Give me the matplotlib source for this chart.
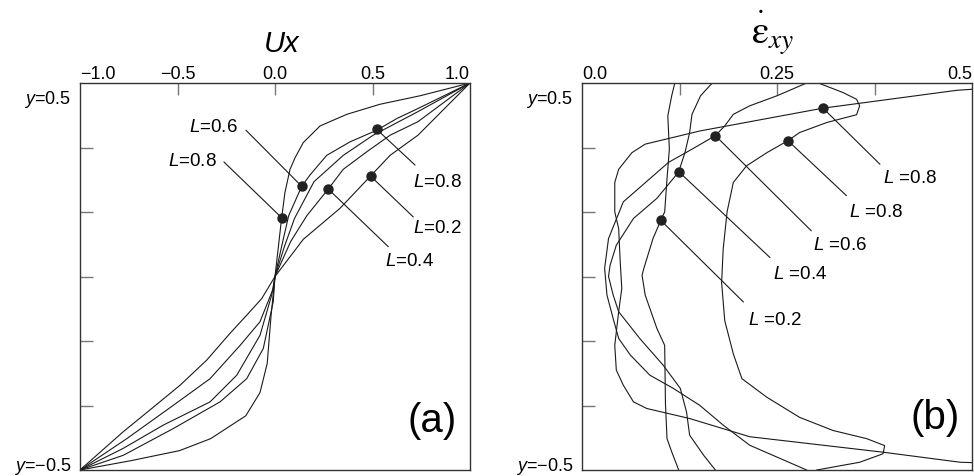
import matplotlib.pyplot as plt

plt.rcParams.update(
    {
        "font.family": ["Liberation Sans", "DejaVu Sans"],
        "font.size": 13,
        "mathtext.fontset": "custom",
        "mathtext.rm": "Liberation Sans",
        "mathtext.it": "Liberation Sans:italic",
        "axes.linewidth": 1.0,
    }
)

# ---- panel (a): velocity profiles Ux(y) ----
UX_A_X = [-1, -0.74, -0.49, -0.33, -0.15, -0.077, -0.04, -0.02, 0, 0.018, 0.034, 0.051, 0.077, 0.103, 0.145, 0.231, 0.368, 0.538, 0.744, 1]
UX_A_Y = [-0.5, -0.476, -0.45, -0.419, -0.36, -0.30, -0.225, -0.10, 0, 0.08, 0.151, 0.217, 0.277, 0.307, 0.346, 0.389, 0.419, 0.445, 0.467, 0.5]
UX_B_X = [-1, -0.778, -0.522, -0.282, -0.145, -0.06, -0.009, 0, 0.035, 0.07, 0.137, 0.179, 0.265, 0.385, 0.522, 0.624, 0.733, 1]
UX_B_Y = [-0.5, -0.462, -0.393, -0.324, -0.264, -0.186, -0.065, 0, 0.08, 0.157, 0.233, 0.262, 0.313, 0.348, 0.378, 0.408, 0.434, 0.5]
UX_C_X = [-1, -0.778, -0.573, -0.333, -0.196, -0.077, -0.017, 0, 0.05, 0.10, 0.2, 0.35, 0.503, 0.733, 1]
UX_C_Y = [-0.5, -0.444, -0.384, -0.324, -0.255, -0.152, -0.048, 0, 0.08, 0.15, 0.245, 0.313, 0.365, 0.426, 0.5]
UX_E_X = [-1, -0.76, -0.522, -0.333, -0.179, -0.077, -0.009, 0, 0.08, 0.163, 0.273, 0.35, 0.47, 0.59, 0.733, 1]
UX_E_Y = [-0.5, -0.419, -0.333, -0.264, -0.178, -0.117, -0.031, 0, 0.09, 0.157, 0.226, 0.277, 0.322, 0.365, 0.40, 0.5]
UX_D_X = [-1, -0.778, -0.632, -0.487, -0.35, -0.231, -0.145, -0.068, 0, 0.145, 0.333, 0.487, 0.59, 0.733, 1]
UX_D_Y = [-0.5, -0.401, -0.341, -0.281, -0.216, -0.147, -0.100, -0.057, 0, 0.096, 0.176, 0.258, 0.313, 0.365, 0.5]

UX_MARK_X = [0.137, 0.034, 0.522, 0.491, 0.273]
UX_MARK_Y = [0.233, 0.152, 0.380, 0.259, 0.226]
UX_MARK_L = ["0.6", "0.8", "0.8", "0.2", "0.4"]

UX_TICKS = [-1.0, -0.5, 0.0, 0.5, 1.0]
UX_TICK_LABELS = ["\u22121.0", "\u22120.5", "0.0", "0.5", "1.0"]

# ---- panel (b): shear strain rate profiles ----
EPS_1_X = [0.124, 0.115, 0.109, 0.107, 0.106, 0.096, 0.081, 0.077, 0.079, 0.091, 0.101, 0.106, 0.109, 0.112, 0.110, 0.115, 0.119]
EPS_1_Y = [-0.5, -0.453, -0.419, -0.329, -0.178, -0.134, -0.048, 0.003, 0.019, 0.098, 0.145, 0.167, 0.253, 0.329, 0.415, 0.467, 0.5]
EPS_2_X = [0.171, 0.156, 0.138, 0.134, 0.126, 0.104, 0.074, 0.047, 0.040, 0.034, 0.036, 0.044, 0.066, 0.096, 0.117, 0.124, 0.132, 0.138, 0.141, 0.152, 0.167]
EPS_2_Y = [-0.5, -0.462, -0.410, -0.350, -0.289, -0.229, -0.160, -0.091, -0.048, 0.0, 0.029, 0.081, 0.150, 0.202, 0.253, 0.271, 0.320, 0.372, 0.419, 0.467, 0.5]
EPS_3_X = [0.288, 0.215, 0.181, 0.151, 0.117, 0.087, 0.062, 0.047, 0.040, 0.032, 0.029, 0.034, 0.053, 0.086, 0.111, 0.141, 0.171, 0.183, 0.194, 0.215, 0.250, 0.288]
EPS_3_Y = [-0.5, -0.436, -0.384, -0.333, -0.289, -0.255, -0.203, -0.160, -0.109, -0.048, 0.021, 0.098, 0.193, 0.251, 0.295, 0.329, 0.364, 0.389, 0.419, 0.441, 0.467, 0.5]
EPS_4_X = [0.501, 0.485, 0.386, 0.215, 0.138, 0.083, 0.066, 0.053, 0.044, 0.042, 0.047, 0.051, 0.049, 0.047, 0.042, 0.042, 0.047, 0.064, 0.081, 0.151, 0.309, 0.480, 0.501]
EPS_4_Y = [-0.481, -0.480, -0.454, -0.414, -0.367, -0.341, -0.324, -0.281, -0.242, -0.178, -0.091, -0.031, 0.038, 0.124, 0.167, 0.243, 0.277, 0.320, 0.342, 0.376, 0.435, 0.481, 0.484]
EPS_5_X = [0.301, 0.356, 0.386, 0.388, 0.365, 0.322, 0.279, 0.237, 0.205, 0.194, 0.183, 0.179, 0.181, 0.186, 0.194, 0.211, 0.237, 0.264, 0.279, 0.314, 0.352, 0.356, 0.352, 0.335, 0.303]
EPS_5_Y = [-0.5, -0.480, -0.458, -0.437, -0.419, -0.398, -0.364, -0.312, -0.264, -0.200, -0.114, -0.016, 0.071, 0.167, 0.243, 0.286, 0.320, 0.351, 0.372, 0.398, 0.418, 0.441, 0.458, 0.475, 0.5]

EPS_MARK_X = [0.309, 0.264, 0.171, 0.124, 0.101]
EPS_MARK_Y = [0.435, 0.351, 0.364, 0.271, 0.145]
EPS_MARK_L = ["0.8", "0.8", "0.6", "0.4", "0.2"]

EPS_TICKS = [0.0, 0.125, 0.25, 0.375, 0.5]
EPS_TICK_LABELS = ["0.0", "", "0.25", "", "0.5"]

Y_TICKS = [-0.5, -1 / 3, -1 / 6, 0.0, 1 / 6, 1 / 3, 0.5]

LINE_COLOR = "#1a1a1a"
TICK_COLOR = "#777777"


def style_axes(ax, xlim, xticks, xticklabels):
    ax.set_xlim(*xlim)
    ax.set_ylim(-0.5, 0.5)
    for spine in ax.spines.values():
        spine.set_color("#333333")
    ax.xaxis.tick_top()
    ax.set_xticks(xticks)
    ax.set_xticklabels(xticklabels)
    ax.set_yticks(Y_TICKS)
    ax.set_yticklabels([])
    ax.tick_params(axis="x", direction="in", length=8.5, width=1.0, color=TICK_COLOR,
                   top=True, bottom=False, labeltop=True, labelbottom=False, pad=0.5, labelsize=13)
    ax.tick_params(axis="y", direction="in", length=9.5, width=1.0, color=TICK_COLOR,
                   left=True, right=False, labelleft=False)
    xt = ax.xaxis.get_major_ticks()
    for t in (xt[0], xt[-1]):
        t.tick2line.set_visible(False)
    xt[0].label2.set_ha("left")
    xt[-1].label2.set_ha("right")
    yt = ax.yaxis.get_major_ticks()
    for t in (yt[0], yt[-1]):
        t.tick1line.set_visible(False)

    ax.annotate("$y$=0.5", xy=(0, 0.5), xycoords=("axes fraction", "data"), xytext=(-6.3, -14.4),
                textcoords="offset points", ha="right", va="baseline", fontsize=13)
    ax.annotate("$y$=\u22120.5", xy=(0, -0.5), xycoords=("axes fraction", "data"), xytext=(-6.3, 0.3),
                textcoords="offset points", ha="right", va="baseline", fontsize=13)


def add_labels(ax, mx, my, labels, layout, sep):
    ax.plot(mx, my, "o", ms=6.5, color="#222222", ls="none", zorder=4)
    for x, y, lab, (lx, ly, tx, ty, ha) in zip(mx, my, labels, layout):
        ax.annotate("", xy=(x, y), xytext=(lx, ly),
                    arrowprops=dict(arrowstyle="-", lw=0.8, color=LINE_COLOR, shrinkA=0, shrinkB=0))
        ax.text(tx, ty, f"$L${sep}={lab}", ha=ha, va="baseline", fontsize=13.5)


fig = plt.figure(figsize=(9.74, 4.77), dpi=100)
ax_a = fig.add_axes([80 / 974, 6 / 477, 390 / 974, 387 / 477])
ax_b = fig.add_axes([582 / 974, 6 / 477, 390 / 974, 387 / 477])

# (a)
for xs, ys in [(UX_A_X, UX_A_Y), (UX_B_X, UX_B_Y), (UX_C_X, UX_C_Y), (UX_E_X, UX_E_Y), (UX_D_X, UX_D_Y)]:
    ax_a.plot(xs, ys, color=LINE_COLOR, lw=0.8)
style_axes(ax_a, (-1, 1), UX_TICKS, UX_TICK_LABELS)
layout_a = [
    (-0.149, 0.378, -0.190, 0.3755, "right"),
    (-0.262, 0.296, -0.297, 0.289, "right"),
    (0.718, 0.288, 0.706, 0.234, "left"),
    (0.709, 0.154, 0.708, 0.114, "left"),
    (0.581, 0.077, 0.564, 0.031, "left"),
]
add_labels(ax_a, UX_MARK_X, UX_MARK_Y, UX_MARK_L, layout_a, "")
ax_a.text(0.517, 1.0827, "Ux", transform=ax_a.transAxes, ha="center", va="baseline",
          fontsize=21, fontstyle="italic")
ax_a.text(0.904, 0.129, "(a)", transform=ax_a.transAxes, ha="center", va="center", fontsize=29)

# (b)
for xs, ys in [(EPS_1_X, EPS_1_Y), (EPS_2_X, EPS_2_Y), (EPS_3_X, EPS_3_Y), (EPS_4_X, EPS_4_Y), (EPS_5_X, EPS_5_Y)]:
    ax_b.plot(xs, ys, color=LINE_COLOR, lw=0.8)
style_axes(ax_b, (0, 0.5), EPS_TICKS, EPS_TICK_LABELS)
layout_b = [
    (0.382, 0.290, 0.3855, 0.243, "left"),
    (0.339, 0.209, 0.3427, 0.157, "left"),
    (0.294, 0.118, 0.2965, 0.0705, "left"),
    (0.241, 0.049, 0.2445, -0.005, "left"),
    (0.207, -0.066, 0.2132, -0.122, "left"),
]
add_labels(ax_b, EPS_MARK_X, EPS_MARK_Y, EPS_MARK_L, layout_b, " ")
ax_b.text(0.488, 1.10, r"$\overset{\cdot}{\mathrm{\varepsilon}}_{xy}$", transform=ax_b.transAxes,
          ha="center", va="baseline", fontsize=28, math_fontfamily="stix")
ax_b.text(0.905, 0.138, "(b)", transform=ax_b.transAxes, ha="center", va="center", fontsize=29)

fig.savefig("out.png", dpi=100)
